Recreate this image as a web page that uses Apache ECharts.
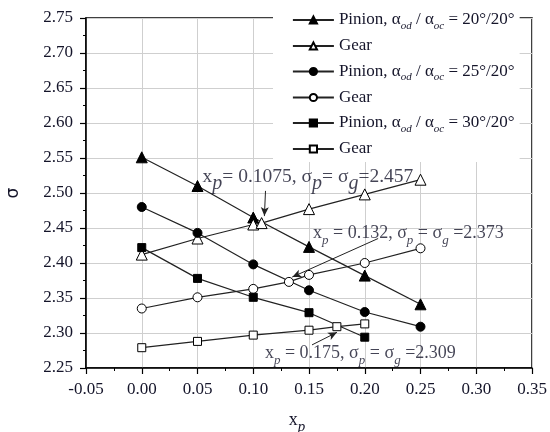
<!DOCTYPE html>
<html><head><meta charset="utf-8">
<script src="https://cdn.jsdelivr.net/npm/echarts@6/dist/echarts.min.js"></script>
<style>html,body{margin:0;padding:0;background:#fff}#c{width:550px;height:432px}</style>
</head><body><div id="c"></div>
<script>
// ---- data ----
const pinion20x = [0.00, 0.05, 0.10, 0.15, 0.20, 0.25];
const pinion20  = [2.551, 2.510, 2.465, 2.423, 2.382, 2.341];
const gear20x   = [0.00, 0.05, 0.10, 0.1075, 0.15, 0.20, 0.25];
const gear20    = [2.412, 2.435, 2.455, 2.457, 2.477, 2.498, 2.519];
const pinion25x = [0.00, 0.05, 0.10, 0.15, 0.20, 0.25];
const pinion25  = [2.480, 2.443, 2.398, 2.361, 2.330, 2.309];
const gear25x   = [0.00, 0.05, 0.10, 0.132, 0.15, 0.20, 0.25];
const gear25    = [2.335, 2.351, 2.363, 2.373, 2.383, 2.400, 2.421];
const pinion30x = [0.00, 0.05, 0.10, 0.15, 0.20];
const pinion30  = [2.422, 2.378, 2.351, 2.329, 2.294];
const gear30x   = [0.00, 0.05, 0.10, 0.15, 0.175, 0.20];
const gear30    = [2.279, 2.288, 2.297, 2.304, 2.309, 2.313];

const seriesKeys   = ['P20', 'G20', 'P25', 'G25', 'P30', 'G30'];
const legendLabels = [
  'Pinion, α{sub|od} / α{sub|oc} = 20°/20°', 'Gear',
  'Pinion, α{sub|od} / α{sub|oc} = 25°/20°', 'Gear',
  'Pinion, α{sub|od} / α{sub|oc} = 30°/20°', 'Gear'
];

const noteTexts = [
  'x{sp|p}= 0.1075, σ{sp|p}= σ{sp|g}=2.457',
  'x{ss|p} = 0.132, σ{ss|p} = σ{ss|g} =2.373',
  'x{ss|p} = 0.175, σ{ss|p} = σ{ss|g} =2.309'
];
const noteX = [0.0545, 0.1536, 0.1105];
const noteY = [2.523, 2.443, 2.2714];
const arrowFrom = [[0.111, 2.503], [0.212, 2.435], [0.1527, 2.283]];
const arrowTo   = [[0.110, 2.467], [0.135, 2.380], [0.1751, 2.301]];

const xAxisName = 'x{xs|p}';
const yAxisName = 'σ';

// ---- build ----
const SERIF = 'Liberation Serif';
const INK = '#15152a';
const noteSize = [19.5, 18, 18];
function pts(xs, ys) { return xs.map((x, i) => [x, ys[i]]); }
function mk(key, xs, ys, symbol, filled, size) {
  return {
    name: key, type: 'line', data: pts(xs, ys),
    symbol: symbol, symbolSize: size,
    lineStyle: { color: '#222', width: 1.2 },
    itemStyle: { color: filled ? '#000' : '#fff', borderColor: '#000', borderWidth: 1 },
    emphasis: { disabled: true }, z: 3
  };
}
const series = [
  mk('P20', pinion20x, pinion20, 'triangle', true, 11),
  mk('G20', gear20x, gear20, 'triangle', false, 11),
  mk('P25', pinion25x, pinion25, 'circle', true, 9),
  mk('G25', gear25x, gear25, 'circle', false, 9),
  mk('P30', pinion30x, pinion30, 'rect', true, 8),
  mk('G30', gear30x, gear30, 'rect', false, 8)
];
series.push({
  type: 'scatter', name: 'notes', symbolSize: 0, silent: true, z: 5,
  data: noteTexts.map((t, i) => ({
    value: [noteX[i], noteY[i]],
    label: { show: true, position: 'right', distance: 0, formatter: t, fontSize: noteSize[i] }
  })),
  label: {
    color: INK, fontFamily: SERIF, fontSize: 18,
    rich: {
      sp: { fontFamily: SERIF, fontSize: 20, fontStyle: 'italic', color: INK, padding: [14, 0, 0, 0] },
      ss: { fontFamily: SERIF, fontSize: 13, fontStyle: 'italic', color: INK, padding: [16, 0, 0, 0] }
    }
  },
  markLine: {
    silent: true, symbol: ['none', 'arrow'], symbolSize: [6, 9],
    lineStyle: { color: '#222', width: 1, type: 'solid' }, label: { show: false },
    data: arrowFrom.map((f, i) => [{ coord: f }, { coord: arrowTo[i] }])
  }
});

const chart = echarts.init(document.getElementById('c'), null, { renderer: 'canvas' });
chart.setOption({
  animation: false,
  backgroundColor: '#fff',
  grid: { left: 86, right: 18, top: 18, bottom: 64, outerBoundsMode: 'none', containLabel: false,
    show: true, borderColor: '#000', borderWidth: 1.5, backgroundColor: 'transparent' },
  legend: {
    data: seriesKeys, orient: 'vertical', left: 273, top: 4,
    padding: [5, 5, 2, 19], backgroundColor: '#fff', itemGap: 3.5,
    itemWidth: 41, itemHeight: 9,
    lineStyle: { width: 1.8 },
    formatter: name => legendLabels[seriesKeys.indexOf(name)],
    textStyle: {
      fontFamily: SERIF, fontSize: 17, color: INK, lineHeight: 22,
      rich: { sub: { fontFamily: SERIF, fontSize: 11, fontStyle: 'italic', color: INK, padding: [12, 0, 0, 0] } }
    },
    selectedMode: false, z: 10
  },
  xAxis: {
    type: 'value', min: -0.05, max: 0.35, interval: 0.05,
    name: xAxisName, nameLocation: 'middle', nameGap: 38,
    nameTextStyle: { fontFamily: SERIF, fontSize: 18, color: INK, padding: [0, 24, 0, 0],
      rich: { xs: { fontFamily: SERIF, fontSize: 15, fontStyle: 'italic', color: INK, padding: [14, 0, 0, 0] } } },
    axisLine: { show: true, onZero: false, lineStyle: { color: '#000', width: 1.5 } },
    axisTick: { show: true, inside: false, length: 6, lineStyle: { color: '#000', width: 1.2 } },
    minorTick: { show: true, splitNumber: 2, length: 3, lineStyle: { color: '#000', width: 1 } },
    axisLabel: { fontFamily: SERIF, fontSize: 17, color: INK, margin: 13, formatter: v => v.toFixed(2) },
    splitLine: { show: true, lineStyle: { color: '#cfcfcf', width: 1 } }
  },
  yAxis: {
    type: 'value', min: 2.25, max: 2.75, interval: 0.05,
    name: yAxisName, nameLocation: 'middle', nameGap: 64, nameRotate: 90,
    nameTextStyle: { fontFamily: 'DejaVu Sans', fontSize: 17, color: INK },
    axisLine: { show: true, onZero: false, lineStyle: { color: '#000', width: 1.5 } },
    axisTick: { show: true, inside: false, length: 6, lineStyle: { color: '#000', width: 1.2 } },
    minorTick: { show: true, splitNumber: 2, length: 3, lineStyle: { color: '#000', width: 1 } },
    axisLabel: { fontFamily: SERIF, fontSize: 17, color: INK, margin: 13, formatter: v => v.toFixed(2) },
    splitLine: { show: true, lineStyle: { color: '#cfcfcf', width: 1 } }
  },
  series: series
});
</script>
</body></html>
